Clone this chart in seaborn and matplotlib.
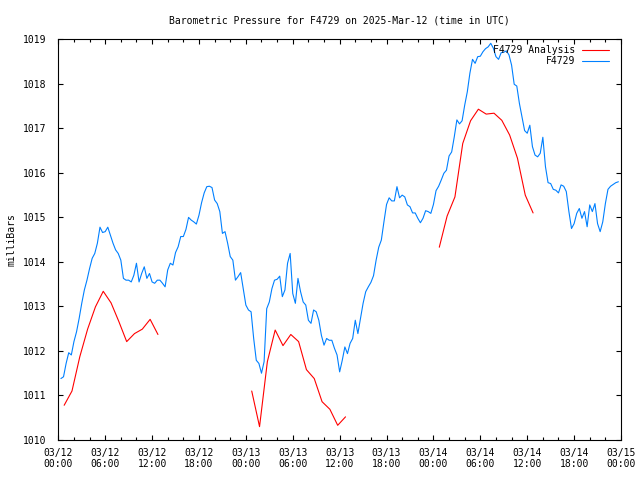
import matplotlib
matplotlib.use("Agg")
import pandas as pd
import matplotlib.pyplot as plt
import matplotlib.dates as mdates
from matplotlib.lines import Line2D
import seaborn as sns

# Texto do gráfico
title = "Barometric Pressure for F4729 on 2025-Mar-12 (time in UTC)"
y_label = "milliBars"
obs_label = "F4729"
ana_label = "F4729 Analysis"

# Leituras da estação, uma a cada 20 minutos a partir de 03/12 00:20 UTC
obs_start = "2025-03-12 00:20"
obs_step = "20min"
obs_mb = [
    1011.38, 1011.42, 1011.72, 1011.96, 1011.91, 1012.21, 1012.43, 1012.73, 1013.07, 1013.37,
    1013.59, 1013.85, 1014.08, 1014.19, 1014.42, 1014.78, 1014.66, 1014.68, 1014.78, 1014.60,
    1014.42, 1014.27, 1014.19, 1014.04, 1013.63, 1013.59, 1013.59, 1013.55, 1013.70, 1013.97,
    1013.55, 1013.74, 1013.89, 1013.63, 1013.74, 1013.55, 1013.52, 1013.59, 1013.59, 1013.52,
    1013.44, 1013.82, 1013.97, 1013.93, 1014.21, 1014.34, 1014.57, 1014.57, 1014.73, 1015.00,
    1014.94, 1014.90, 1014.85, 1015.05, 1015.33, 1015.55, 1015.69, 1015.70, 1015.67, 1015.39,
    1015.31, 1015.13, 1014.64, 1014.68, 1014.42, 1014.12, 1014.04, 1013.59, 1013.67, 1013.76,
    1013.40, 1013.03,
    # 03/13
    1012.92, 1012.88, 1012.28, 1011.79, 1011.72, 1011.50, 1011.76, 1012.95,
    1013.10, 1013.40, 1013.59, 1013.61, 1013.68, 1013.22, 1013.37, 1013.97, 1014.19, 1013.29,
    1013.07, 1013.63, 1013.33, 1013.10, 1013.03, 1012.69, 1012.62, 1012.92, 1012.88, 1012.69,
    1012.35, 1012.13, 1012.28, 1012.24, 1012.24, 1012.06, 1011.91, 1011.53, 1011.79, 1012.09,
    1011.94, 1012.17, 1012.28, 1012.69, 1012.39, 1012.73, 1013.07, 1013.33, 1013.44, 1013.54,
    1013.69, 1014.04, 1014.33, 1014.49, 1014.90, 1015.29, 1015.44, 1015.37, 1015.37, 1015.69,
    1015.44, 1015.50, 1015.46, 1015.28, 1015.24, 1015.10, 1015.10, 1014.98, 1014.88, 1014.98,
    1015.15, 1015.13, 1015.09, 1015.29,
    # 03/14
    1015.60, 1015.70, 1015.84, 1015.99, 1016.06, 1016.38,
    1016.47, 1016.81, 1017.19, 1017.10, 1017.17, 1017.52, 1017.82, 1018.24, 1018.55, 1018.46,
    1018.61, 1018.62, 1018.72, 1018.79, 1018.83, 1018.91, 1018.80, 1018.61, 1018.55, 1018.70,
    1018.71, 1018.74, 1018.65, 1018.42, 1017.99, 1017.95, 1017.56, 1017.25, 1016.95, 1016.89,
    1017.07, 1016.59, 1016.40, 1016.36, 1016.44, 1016.80, 1016.14, 1015.78, 1015.76, 1015.63,
    1015.61, 1015.55, 1015.73, 1015.70, 1015.58, 1015.13, 1014.75, 1014.86, 1015.09, 1015.20,
    1014.98, 1015.13, 1014.79, 1015.28, 1015.13, 1015.31, 1014.86, 1014.68, 1014.90, 1015.31,
    1015.63, 1015.70, 1015.74, 1015.78, 1015.80,
]

# Análise horária, três trechos separados
ana_starts = ["2025-03-12 00:45", "2025-03-13 00:45", "2025-03-14 00:45"]
ana_day1 = [1010.78, 1011.10, 1011.87, 1012.49, 1012.99, 1013.34, 1013.08,
            1012.66, 1012.21, 1012.39, 1012.49, 1012.71, 1012.37]
ana_day2 = [1011.10, 1010.30, 1011.76, 1012.47, 1012.12, 1012.37, 1012.21,
            1011.58, 1011.38, 1010.86, 1010.69, 1010.33, 1010.52]
ana_day3 = [1014.33, 1015.03, 1015.46, 1016.66, 1017.17, 1017.43, 1017.32,
            1017.34, 1017.18, 1016.85, 1016.33, 1015.50, 1015.10]

x_start = "2025-03-12 00:00"
x_end = "2025-03-15 00:00"
y_ticks = list(range(1010, 1020))

obs_color = "#0080ff"
ana_color = "#ff0000"

# Monta os dataframes
obs_df = pd.DataFrame({
    "time": pd.date_range(obs_start, periods=len(obs_mb), freq=obs_step),
    "mb": obs_mb,
})
ana_df = pd.concat([
    pd.DataFrame({"time": pd.date_range(s, periods=len(v), freq="1h"), "mb": v, "run": i})
    for i, (s, v) in enumerate(zip(ana_starts, [ana_day1, ana_day2, ana_day3]))
])

# Estilo parecido com gnuplot
sns.set_theme(style="ticks", rc={
    "axes.edgecolor": "black",
    "axes.linewidth": 0.8,
    "xtick.color": "black",
    "ytick.color": "black",
    "text.color": "black",
    "axes.labelcolor": "black",
})
plt.rcParams["font.family"] = ["DejaVu Sans Mono"]
fs = 7.0
lw = 0.8

fig = plt.figure(figsize=(6.4, 4.8), dpi=100)
ax = fig.add_axes([58.3 / 640, 40 / 480, (621 - 58.3) / 640, (440 - 39.3) / 480])

sns.lineplot(data=ana_df, x="time", y="mb", units="run", estimator=None,
             color=ana_color, lw=lw, ax=ax, legend=False)
sns.lineplot(data=obs_df, x="time", y="mb", color=obs_color, lw=lw, ax=ax, legend=False)

ax.set_xlim(pd.Timestamp(x_start), pd.Timestamp(x_end))
ax.set_ylim(y_ticks[0], y_ticks[-1])
ax.set_yticks(y_ticks)
ax.xaxis.set_major_locator(mdates.HourLocator(byhour=[0, 6, 12, 18]))
ax.xaxis.set_minor_locator(mdates.HourLocator(byhour=range(0, 24, 2)))
ax.xaxis.set_major_formatter(mdates.DateFormatter("%m/%d\n%H:%M"))

ax.tick_params(which="both", direction="in", top=True, right=True, width=0.8, labelsize=fs)
ax.tick_params(which="major", length=3.5)
ax.tick_params(which="minor", length=2)
ax.tick_params(axis="y", pad=8.5)
ax.tick_params(axis="x", pad=5.5)

ax.set_xlabel("")
ax.set_ylabel(y_label, fontsize=fs, labelpad=5)
ax.set_title(title, fontsize=fs, pad=11.5)

handles = [Line2D([], [], color=ana_color, lw=lw), Line2D([], [], color=obs_color, lw=lw)]
ax.legend(handles, [ana_label, obs_label], loc="upper right", bbox_to_anchor=(0.979, 0.986),
          frameon=False, markerfirst=False, fontsize=fs, handlelength=2.8,
          handletextpad=0.7, labelspacing=0.15, borderaxespad=0, borderpad=0)

fig.savefig("out.png", dpi=100)
